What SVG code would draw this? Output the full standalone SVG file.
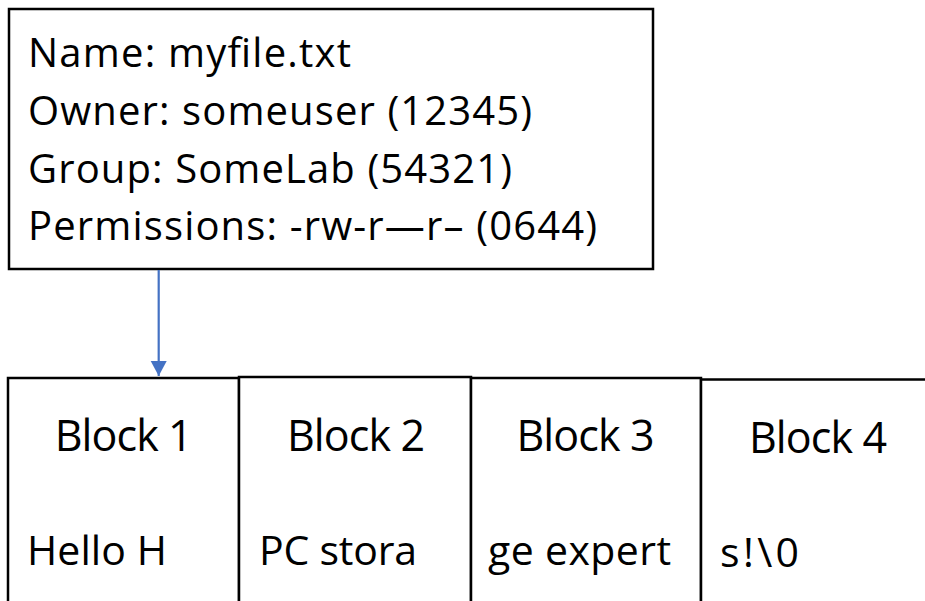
<svg xmlns="http://www.w3.org/2000/svg" width="925" height="601" viewBox="0 0 925 601">
<style>
.box{fill:#fff;stroke:#000;stroke-width:2.5}
.t{font-family:"Open Sans","Noto Sans",sans-serif;fill:#000}
.meta{font-size:40px}
.lbl{font-size:43px;text-anchor:middle}
.dat{font-size:41px}
.conn{stroke:#4472C4;stroke-width:2.2;fill:none}
</style>
<defs>
<marker id="ah" markerUnits="userSpaceOnUse" markerWidth="17" markerHeight="17" refX="15" refY="8" orient="auto">
<path d="M0,0 L15,8 L0,16 Z" fill="#4472C4"/>
</marker>
</defs>
<g id="inode">
<rect class="box" x="9" y="9" width="644" height="260"/>
<text class="t meta" x="28" y="67" textLength="323" lengthAdjust="spacing">Name: myfile.txt</text>
<text class="t meta" x="28" y="125" textLength="504" lengthAdjust="spacing">Owner: someuser (12345)</text>
<text class="t meta" x="28" y="183" textLength="484" lengthAdjust="spacing">Group: SomeLab (54321)</text>
<text class="t meta" x="28" y="240" textLength="569" lengthAdjust="spacing">Permissions: -rw-r—r– (0644)</text>
</g>
<g id="connectors">
<line class="conn" x1="158.7" y1="270" x2="158.7" y2="376" marker-end="url(#ah)"/>
</g>
<g id="block1">
<rect class="box" x="8" y="378" width="231" height="240"/>
<text class="t lbl" x="123.7" y="451" textLength="138" lengthAdjust="spacing">Block 1</text>
<text class="t dat" x="27" y="565" textLength="140" lengthAdjust="spacing">Hello H</text>
</g>
<g id="block2">
<rect class="box" x="239" y="377" width="232" height="240"/>
<text class="t lbl" x="356" y="451" textLength="138" lengthAdjust="spacing">Block 2</text>
<text class="t dat" x="259" y="565" textLength="158" lengthAdjust="spacing">PC stora</text>
</g>
<g id="block3">
<rect class="box" x="471" y="378" width="230" height="240"/>
<text class="t lbl" x="585.5" y="451" textLength="138" lengthAdjust="spacing">Block 3</text>
<text class="t dat" x="488" y="565" textLength="183" lengthAdjust="spacing">ge expert</text>
</g>
<g id="block4">
<rect class="box" x="701" y="379.5" width="240" height="240"/>
<text class="t lbl" x="818" y="453" textLength="138" lengthAdjust="spacing">Block 4</text>
<text class="t dat" x="720" y="567" textLength="79" lengthAdjust="spacing">s!\0</text>
</g>
</svg>
